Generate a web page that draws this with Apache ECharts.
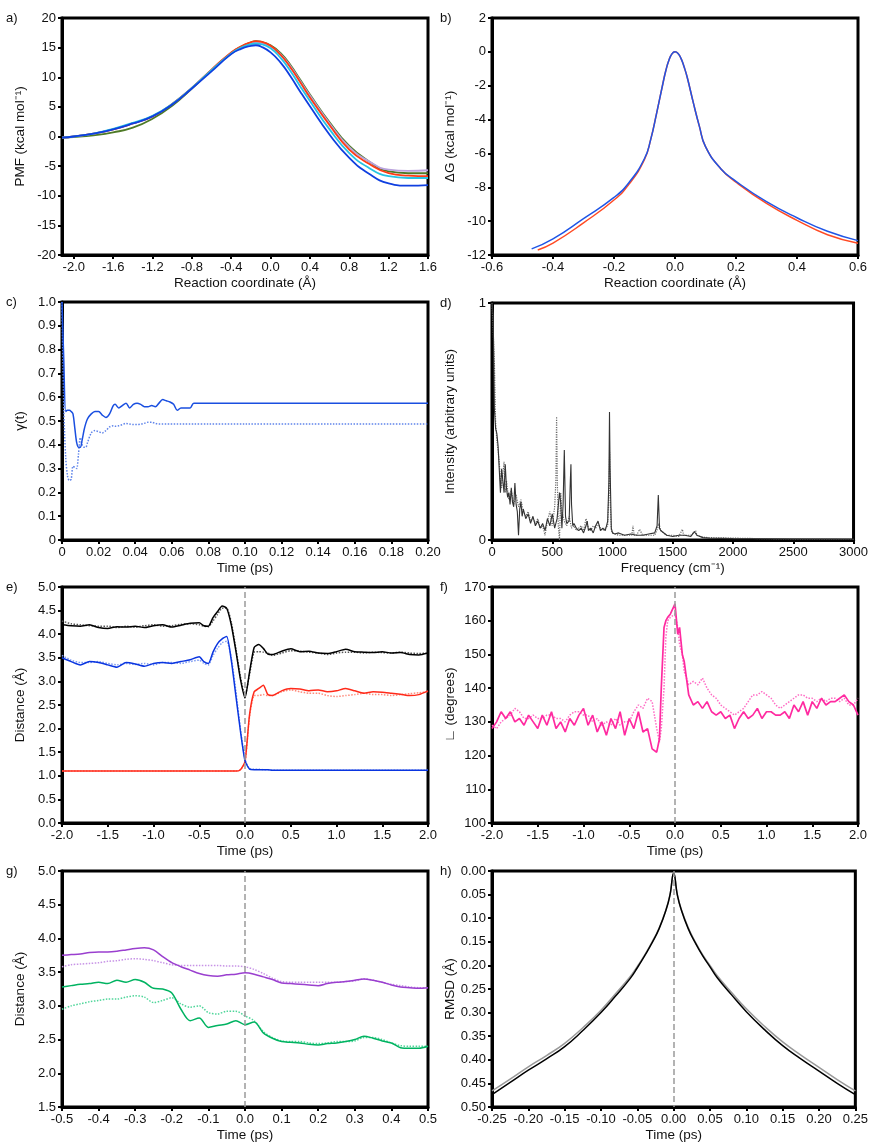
<!DOCTYPE html>
<html><head><meta charset="utf-8">
<script src="https://cdn.jsdelivr.net/npm/echarts@6/dist/echarts.min.js"></script>
<style>html,body{margin:0;padding:0;background:#fff}#c{width:871px;height:1144px}</style>
</head><body><div id="c"></div>
<script>
// ---- Panel a: PMF ----
const aX = [-2.12,-2.0,-1.8,-1.6,-1.4,-1.2,-1.0,-0.8,-0.6,-0.4,-0.3,-0.2,-0.15,-0.1,0.0,0.1,0.2,0.3,0.4,0.6,0.8,1.0,1.2,1.4,1.6];
const aGreen  = [-0.2,-0.1,0.2,0.7,1.5,3.0,5.2,8.1,11.2,14.1,15.2,15.9,16.1,16.0,15.4,14.1,12.1,9.6,7.1,2.4,-1.6,-4.2,-5.9,-6.2,-6.2];
const aPurple = [-0.2,0.0,0.5,1.2,2.2,3.4,5.5,8.2,11.2,14.1,15.1,15.7,15.9,15.8,15.2,13.9,11.9,9.4,6.9,2.2,-1.8,-4.2,-5.6,-5.8,-5.7];
const aRed    = [-0.2,0.0,0.5,1.2,2.2,3.4,5.5,8.2,11.3,14.2,15.2,15.9,16.1,16.0,15.3,13.8,11.7,9.2,6.6,1.9,-2.2,-4.6,-6.2,-6.6,-6.7];
const aCyan   = [-0.2,0.0,0.5,1.3,2.3,3.5,5.5,8.2,11.2,14.0,15.0,15.6,15.7,15.6,14.9,13.3,11.1,8.5,6.0,1.2,-2.8,-5.3,-6.7,-7.0,-7.0];
const aBlue   = [-0.2,0.0,0.5,1.2,2.2,3.4,5.4,8.1,11.0,13.9,14.8,15.3,15.4,15.2,14.2,12.5,10.2,7.6,5.1,0.3,-3.6,-6.3,-7.9,-8.3,-8.2];
const aTicks  = [-2.0,-1.6,-1.2,-0.8,-0.4,0.0,0.4,0.8,1.2,1.6];

// ---- Panel b: dG ----
const bXBlue = [-0.47,-0.4,-0.3,-0.2,-0.15,-0.1,-0.08,-0.06,-0.04,-0.03,-0.02,-0.01,0,0.01,0.02,0.03,0.04,0.06,0.08,0.1,0.15,0.2,0.3,0.4,0.5,0.6];
const bBlue  = [-11.64,-11.05,-9.85,-8.6,-7.7,-6.3,-5.2,-3.6,-1.9,-1.1,-0.5,-0.12,0.0,-0.1,-0.4,-0.9,-1.5,-3.0,-4.4,-5.6,-6.9,-7.65,-8.85,-9.8,-10.6,-11.15];
const bXRed  = [-0.45,-0.4,-0.3,-0.2,-0.15,-0.1,-0.08,-0.06,-0.04,-0.03,-0.02,-0.01,0,0.01,0.02,0.03,0.04,0.06,0.08,0.1,0.15,0.2,0.3,0.4,0.5,0.6];
const bRed   = [-11.7,-11.3,-10.1,-8.75,-7.8,-6.35,-5.2,-3.6,-1.9,-1.1,-0.5,-0.12,0.0,-0.1,-0.4,-0.9,-1.5,-3.0,-4.4,-5.6,-6.9,-7.7,-8.95,-9.95,-10.8,-11.3];

// ---- Panel c: gamma(t) ----
const cTime = [0,0.001,0.002,0.003,0.004,0.005,0.006,0.007,0.008,0.009,0.010,0.011,0.012,0.013,0.014,0.016,0.018,0.020,0.022,0.024,0.026,0.028,0.029,0.031,0.033,0.035,0.037,0.039,0.041,0.043,0.045,0.047,0.049,0.051,0.053,0.055,0.057,0.059,0.061,0.063,0.065,0.067,0.070,0.072,0.080,0.100,0.150,0.200];
const cSolid = [1.0,0.75,0.54,0.545,0.545,0.54,0.53,0.47,0.41,0.39,0.39,0.42,0.46,0.49,0.51,0.53,0.54,0.54,0.525,0.515,0.53,0.565,0.57,0.555,0.565,0.575,0.555,0.57,0.575,0.57,0.56,0.56,0.565,0.56,0.575,0.59,0.585,0.58,0.57,0.545,0.555,0.555,0.555,0.575,0.575,0.575,0.575,0.575];
const cDotted = [1.0,0.55,0.35,0.27,0.25,0.255,0.31,0.305,0.30,0.36,0.43,0.40,0.39,0.39,0.41,0.45,0.46,0.455,0.45,0.46,0.475,0.48,0.478,0.48,0.485,0.49,0.487,0.485,0.485,0.487,0.49,0.495,0.495,0.49,0.487,0.487,0.487,0.487,0.487,0.487,0.487,0.487,0.487,0.487,0.487,0.487,0.487,0.487];

// ---- Panel d: spectrum ----
const dFreqA = [0,10,20,30,40,50,60,70,80,90,100,110,120,130,140,150,160,170,180,190,200,210,220,230,240,250,260,280,300,320,340,360,380,400,420,440,460,480,500,520,540,560,570,580,590,600,610,620,640,650,655,660,670,680,700,720,740,760,780,790,800,820,840,860,880,900,920,940,960,970,975,980,990,1000,1020,1050,1100,1150,1200,1250,1300,1350,1370,1380,1390,1400,1450,1500,1550,1600,1650,1680,1700,1750,1800,2000,2200,2500,3000];
const dIntA  = [1.0,0.95,0.55,0.47,0.45,0.40,0.30,0.20,0.30,0.25,0.20,0.32,0.22,0.18,0.20,0.15,0.22,0.16,0.14,0.24,0.15,0.12,0.02,0.13,0.16,0.10,0.13,0.09,0.11,0.07,0.10,0.06,0.08,0.05,0.07,0.04,0.09,0.06,0.11,0.05,0.09,0.20,0.16,0.05,0.15,0.38,0.10,0.07,0.08,0.25,0.32,0.15,0.06,0.07,0.05,0.04,0.05,0.03,0.06,0.08,0.04,0.05,0.03,0.06,0.08,0.04,0.05,0.04,0.08,0.25,0.54,0.30,0.05,0.03,0.025,0.03,0.02,0.025,0.02,0.02,0.025,0.03,0.06,0.19,0.05,0.04,0.02,0.015,0.02,0.02,0.015,0.035,0.02,0.01,0.008,0.006,0.005,0.004,0.003];
const dFreqB = [0,10,20,30,40,50,60,70,80,90,100,110,120,140,160,180,200,220,240,260,280,300,320,340,360,380,400,420,440,460,480,500,520,530,536,542,550,560,570,580,600,620,640,660,680,700,720,740,760,780,800,820,840,860,880,900,920,940,960,970,976,982,990,1000,1050,1100,1160,1170,1180,1200,1215,1225,1250,1300,1350,1375,1385,1400,1450,1500,1550,1580,1590,1600,1650,1690,1700,1750,1800,2000,2200,2500,3000];
const dIntB  = [1.0,1.0,0.75,0.50,0.42,0.38,0.33,0.25,0.22,0.28,0.33,0.20,0.25,0.17,0.21,0.15,0.19,0.14,0.17,0.12,0.10,0.12,0.08,0.09,0.07,0.09,0.05,0.06,0.02,0.08,0.12,0.06,0.14,0.25,0.52,0.25,0.06,0.0,0.20,0.12,0.08,0.06,0.10,0.05,0.06,0.04,0.05,0.06,0.04,0.09,0.05,0.04,0.06,0.05,0.07,0.05,0.04,0.05,0.06,0.20,0.37,0.15,0.04,0.03,0.02,0.02,0.02,0.06,0.02,0.02,0.02,0.045,0.02,0.02,0.02,0.05,0.07,0.04,0.02,0.02,0.015,0.045,0.02,0.015,0.02,0.04,0.02,0.012,0.01,0.008,0.006,0.004,0.003];

// ---- Panel e: distances ----
const eTime = [-2.0,-1.9,-1.8,-1.7,-1.6,-1.5,-1.4,-1.3,-1.2,-1.1,-1.0,-0.9,-0.8,-0.7,-0.6,-0.5,-0.45,-0.4,-0.35,-0.3,-0.25,-0.2,-0.15,-0.1,-0.05,0.0,0.05,0.1,0.15,0.2,0.25,0.3,0.4,0.5,0.6,0.7,0.8,0.9,1.0,1.1,1.2,1.3,1.4,1.5,1.6,1.7,1.8,1.9,2.0];
const eBlackSolid  = [4.20,4.18,4.17,4.20,4.14,4.12,4.16,4.15,4.17,4.14,4.18,4.20,4.15,4.19,4.23,4.24,4.18,4.17,4.35,4.48,4.60,4.55,4.20,3.65,3.05,2.65,3.20,3.72,3.78,3.70,3.58,3.57,3.64,3.69,3.63,3.64,3.60,3.59,3.63,3.68,3.63,3.62,3.61,3.63,3.60,3.61,3.57,3.56,3.60];
const eBlackDotted = [4.28,4.22,4.20,4.18,4.17,4.17,4.14,4.17,4.15,4.18,4.20,4.17,4.18,4.21,4.22,4.20,4.17,4.16,4.28,4.42,4.55,4.55,4.25,3.70,3.10,2.70,3.15,3.62,3.63,3.62,3.60,3.55,3.60,3.65,3.64,3.62,3.60,3.57,3.60,3.62,3.62,3.60,3.62,3.61,3.60,3.62,3.60,3.59,3.60];
const eBlueSolid   = [3.50,3.42,3.35,3.42,3.40,3.35,3.30,3.40,3.37,3.32,3.38,3.40,3.38,3.42,3.46,3.52,3.42,3.38,3.62,3.80,3.90,3.95,3.45,2.70,1.95,1.32,1.14,1.13,1.13,1.13,1.13,1.12,1.12,1.12,1.12,1.12,1.12,1.12,1.12,1.12,1.12,1.12,1.12,1.12,1.12,1.12,1.12,1.12,1.12];
const eBlueDotted  = [3.55,3.45,3.40,3.40,3.42,3.38,3.35,3.38,3.36,3.38,3.35,3.40,3.40,3.38,3.42,3.45,3.38,3.35,3.55,3.70,3.82,3.85,3.50,2.80,2.00,1.35,1.15,1.14,1.14,1.13,1.13,1.12,1.12,1.12,1.12,1.12,1.12,1.12,1.12,1.12,1.12,1.12,1.12,1.12,1.12,1.12,1.12,1.12,1.12];
const eRedSolid    = [1.10,1.10,1.10,1.10,1.10,1.10,1.10,1.10,1.10,1.10,1.10,1.10,1.10,1.10,1.10,1.10,1.10,1.10,1.10,1.10,1.10,1.10,1.10,1.10,1.13,1.30,2.30,2.78,2.85,2.92,2.72,2.70,2.80,2.85,2.84,2.80,2.82,2.78,2.80,2.85,2.80,2.75,2.78,2.77,2.75,2.73,2.70,2.72,2.80];
const eRedDotted   = [1.10,1.10,1.10,1.10,1.10,1.10,1.10,1.10,1.10,1.10,1.10,1.10,1.10,1.10,1.10,1.10,1.10,1.10,1.10,1.10,1.10,1.10,1.10,1.10,1.13,1.28,2.25,2.70,2.70,2.72,2.70,2.70,2.78,2.82,2.78,2.75,2.75,2.70,2.68,2.70,2.72,2.75,2.72,2.72,2.70,2.72,2.74,2.76,2.78];

// ---- Panel f: angle ----
const fTime = [-2.0,-1.95,-1.9,-1.85,-1.8,-1.75,-1.7,-1.65,-1.6,-1.55,-1.5,-1.45,-1.4,-1.35,-1.3,-1.25,-1.2,-1.15,-1.1,-1.05,-1.0,-0.95,-0.9,-0.85,-0.8,-0.75,-0.7,-0.65,-0.6,-0.55,-0.5,-0.45,-0.4,-0.35,-0.3,-0.25,-0.2,-0.17,-0.15,-0.12,-0.1,-0.08,-0.05,0.0,0.03,0.05,0.08,0.1,0.15,0.2,0.25,0.3,0.35,0.4,0.45,0.5,0.55,0.6,0.65,0.7,0.75,0.8,0.85,0.9,0.95,1.0,1.05,1.1,1.15,1.2,1.25,1.3,1.35,1.4,1.45,1.5,1.55,1.6,1.65,1.7,1.75,1.8,1.85,1.9,1.95,2.0];
const fSolid  = [128,130,133,131,133,130,131,129,132,130,128,132,129,133,128,130,127,131,129,132,134,129,132,127,130,126,131,128,133,126,131,128,133,127,128,122,121,125,140,158,160,161,162,165,156,158,150,148,138,135,136,134,136,133,132,133,131,132,128,131,133,131,132,134,131,133,133,132,132,133,131,135,133,136,132,136,134,137,135,136,136,137,138,136,135,132];
const fDotted = [129,128,130,131,132,134,133,131,131,132,131,131,132,132,131,131,130,132,133,133,132,132,130,131,129,130,129,131,129,130,130,133,135,134,137,136,128,124,128,140,155,160,161,162,158,153,150,145,141,142,141,143,140,138,137,135,134,133,132,133,134,136,138,138,139,138,137,135,134,135,136,137,138,138,137,137,136,137,136,137,137,136,137,135,135,137];

// ---- Panel g: distances ----
const gTime = [-0.5,-0.475,-0.45,-0.425,-0.4,-0.375,-0.35,-0.325,-0.3,-0.275,-0.25,-0.225,-0.2,-0.175,-0.15,-0.125,-0.1,-0.075,-0.05,-0.025,0,0.025,0.05,0.075,0.1,0.125,0.15,0.175,0.2,0.225,0.25,0.275,0.3,0.325,0.35,0.375,0.4,0.425,0.45,0.475,0.5];
const gPurpleSolid  = [3.75,3.76,3.77,3.79,3.80,3.80,3.81,3.83,3.85,3.86,3.83,3.73,3.64,3.58,3.53,3.48,3.45,3.44,3.46,3.47,3.49,3.47,3.43,3.39,3.34,3.33,3.32,3.31,3.30,3.33,3.35,3.36,3.38,3.40,3.38,3.35,3.31,3.28,3.27,3.26,3.27];
const gPurpleDotted = [3.58,3.61,3.62,3.63,3.64,3.66,3.67,3.69,3.70,3.69,3.67,3.64,3.61,3.60,3.60,3.60,3.60,3.60,3.59,3.59,3.58,3.54,3.48,3.41,3.36,3.35,3.35,3.35,3.35,3.35,3.35,3.36,3.37,3.40,3.38,3.35,3.32,3.30,3.28,3.27,3.27];
const gGreenSolid   = [3.28,3.30,3.32,3.33,3.35,3.33,3.38,3.35,3.39,3.35,3.26,3.25,3.19,2.95,2.78,2.82,2.68,2.71,2.73,2.78,2.72,2.76,2.60,2.52,2.47,2.46,2.45,2.43,2.42,2.44,2.45,2.47,2.50,2.55,2.52,2.48,2.45,2.38,2.37,2.37,2.40];
const gGreenDotted  = [2.95,3.00,3.03,3.06,3.08,3.10,3.10,3.13,3.15,3.13,3.05,3.08,3.12,3.03,2.98,3.00,2.90,2.88,2.92,2.92,2.85,2.78,2.62,2.53,2.48,2.47,2.47,2.45,2.44,2.45,2.47,2.47,2.48,2.53,2.53,2.50,2.45,2.41,2.40,2.40,2.40];

// ---- Panel h: RMSD ----
const hTime  = [-0.25,-0.225,-0.2,-0.175,-0.15,-0.125,-0.1,-0.08,-0.06,-0.05,-0.04,-0.03,-0.02,-0.01,-0.005,0,0.005,0.01,0.02,0.03,0.04,0.05,0.06,0.08,0.1,0.125,0.15,0.175,0.2,0.225,0.25];
const hBlack = [0.474,0.448,0.422,0.398,0.372,0.338,0.300,0.265,0.228,0.205,0.180,0.153,0.122,0.080,0.050,0.005,0.050,0.080,0.122,0.153,0.180,0.203,0.226,0.263,0.298,0.336,0.370,0.398,0.424,0.450,0.474];
const hGrey  = [0.466,0.441,0.415,0.391,0.365,0.332,0.295,0.260,0.224,0.202,0.178,0.151,0.121,0.079,0.050,0.005,0.050,0.079,0.120,0.151,0.178,0.200,0.222,0.258,0.292,0.329,0.362,0.390,0.416,0.442,0.466];

// ---- labels ----
const panelLabels = ['a)','b)','c)','d)','e)','f)','g)','h)'];
const xNames = ['Reaction coordinate (Å)','Reaction coordinate (Å)','Time (ps)','Frequency (cm⁻¹)','Time (ps)','Time (ps)','Time (ps)','Time (ps)'];
const yNames = ['PMF (kcal mol⁻¹)','ΔG (kcal mol⁻¹)','γ(t)','Intensity (arbitrary units)','Distance (Å)','∟ (degrees)','Distance (Å)','RMSD (Å)'];

const FONT = '"Liberation Sans", Arial, Helvetica, sans-serif';
const FS = 13;
const FT = 13.5;
const zip = (xs, ys) => xs.map((x, i) => [x, ys[i]]);
const fx = d => v => (Math.abs(v) < 1e-9 ? 0 : v).toFixed(d);

const grids = [
  {left:62, top:18, width:366, height:237},
  {left:492, top:18, width:366, height:237},
  {left:62, top:302, width:366, height:238},
  {left:492, top:303, width:366, height:237},
  {left:62, top:587, width:366, height:236},
  {left:492, top:587, width:366, height:236},
  {left:62, top:871, width:366, height:236},
  {left:492, top:871, width:366, height:236}
].map(g => Object.assign({show:true, borderColor:'#000', borderWidth:3, backgroundColor:'#fff', containLabel:false}, g));

function axisBase(i, name, isX) {
  return {
    type:'value', gridIndex:i, name:name, nameLocation:'middle',
    nameGap: isX ? 21 : 35,
    nameTextStyle:{fontSize:FT, color:'#111', fontFamily:FONT},
    axisLine:{show:true, onZero:false, lineStyle:{color:'#000', width:3}},
    axisTick:{show:true, inside:false, length:4, lineStyle:{color:'#000', width:2}},
    axisLabel:{fontSize:FS, color:'#111', fontFamily:FONT, margin:6},
    splitLine:{show:false}
  };
}
const xSpec = [
  {min:-2.12, max:1.6, fmt:fx(1), custom:aTicks},
  {min:-0.6, max:0.6, interval:0.2, fmt:fx(1)},
  {min:0, max:0.2, interval:0.02, fmt:v => Math.abs(v)<1e-9 ? '0' : v.toFixed(2)},
  {min:0, max:3000, interval:500, fmt:fx(0)},
  {min:-2, max:2, interval:0.5, fmt:fx(1)},
  {min:-2, max:2, interval:0.5, fmt:fx(1)},
  {min:-0.5, max:0.5, interval:0.1, fmt:fx(1)},
  {min:-0.25, max:0.25, interval:0.05, fmt:fx(2)}
];
const ySpec = [
  {min:-20, max:20, interval:5, fmt:fx(0)},
  {min:-12, max:2, interval:2, fmt:fx(0)},
  {min:0, max:1, interval:0.1, fmt:v => Math.abs(v)<1e-9 ? '0' : v.toFixed(1)},
  {min:0, max:1, interval:1, fmt:fx(0)},
  {min:0, max:5, interval:0.5, fmt:fx(1)},
  {min:100, max:170, interval:10, fmt:fx(0)},
  {min:1.5, max:5, interval:0.5, fmt:fx(1)},
  {min:0, max:0.5, interval:0.05, fmt:fx(2), inverse:true}
];
const xAxes = xSpec.map((s, i) => {
  const a = axisBase(i, xNames[i], true);
  a.min = s.min; a.max = s.max;
  if (s.interval) a.interval = s.interval;
  a.axisLabel.formatter = s.fmt;
  if (s.custom) { a.axisLabel.customValues = s.custom; a.axisTick.customValues = s.custom; }
  return a;
});
const yAxes = ySpec.map((s, i) => {
  const a = axisBase(i, yNames[i], false);
  a.min = s.min; a.max = s.max; a.interval = s.interval;
  a.axisLabel.formatter = s.fmt;
  if (s.inverse) a.inverse = true;
  return a;
});

function line(i, xs, ys, color, o) {
  o = o || {};
  return {
    type:'line', xAxisIndex:i, yAxisIndex:i, data:zip(xs, ys),
    showSymbol:false, symbol:'none', animation:false, clip:true,
    smooth:o.smooth || false, z:o.z || 2,
    lineStyle:{color:color, width:o.w || 1.5, type:o.type || 'solid'}
  };
}
const zeroLine = {silent:true, symbol:['none','none'], label:{show:false}, animation:false,
  lineStyle:{type:'dashed', color:'#9a9a9a', width:1.5}, data:[{xAxis:0}]};
function withZero(s) { s.markLine = zeroLine; return s; }

const series = [
  // a
  line(0, aX, aGreen, '#4e7a26', {smooth:0.5, w:1.8}),
  line(0, aX, aPurple, '#b9a2dc', {smooth:0.5, w:1.8}),
  line(0, aX, aRed, '#ff3a14', {smooth:0.5, w:1.8}),
  line(0, aX, aCyan, '#27c3e2', {smooth:0.5, w:1.8}),
  line(0, aX, aBlue, '#0f3fe0', {smooth:0.5, w:1.8}),
  // b
  line(1, bXRed, bRed, '#ff4a24', {smooth:0.5}),
  line(1, bXBlue, bBlue, '#1f55e6', {smooth:0.5}),
  // c
  line(2, cTime, cDotted, '#5f84ea', {type:'dotted', smooth:0.3}),
  line(2, cTime, cSolid, '#1a4fe0', {smooth:0.3}),
  // d
  line(3, dFreqB, dIntB, '#6a6a6a', {type:'dotted', w:1.2}),
  line(3, dFreqA, dIntA, '#333333', {w:1.1}),
  // e
  withZero(line(4, eTime, eRedDotted, '#ff8a7a', {type:'dotted', smooth:0.2})),
  line(4, eTime, eRedSolid, '#ff2a1a', {smooth:0.2}),
  line(4, eTime, eBlueDotted, '#7f9cf2', {type:'dotted', smooth:0.2}),
  line(4, eTime, eBlueSolid, '#0a35e0', {smooth:0.2}),
  line(4, eTime, eBlackDotted, '#555555', {type:'dotted', smooth:0.2}),
  line(4, eTime, eBlackSolid, '#000000', {smooth:0.2}),
  // f
  withZero(line(5, fTime, fDotted, '#ff6cc4', {type:'dotted'})),
  line(5, fTime, fSolid, '#ff2aa0', {w:1.7}),
  // g
  withZero(line(6, gTime, gPurpleDotted, '#c793e6', {type:'dotted', smooth:0.3})),
  line(6, gTime, gPurpleSolid, '#9a3fcf', {smooth:0.3}),
  line(6, gTime, gGreenDotted, '#4fd69a', {type:'dotted', smooth:0.3}),
  line(6, gTime, gGreenSolid, '#00b361', {smooth:0.3}),
  // h
  withZero(line(7, hTime, hGrey, '#9a9a9a', {smooth:0.5})),
  line(7, hTime, hBlack, '#000000', {smooth:0.5})
];

const labelPos = [[6,18],[440,18],[6,302],[440,303],[6,587],[440,587],[6,871],[440,871]];
const graphic = panelLabels.map((t, i) => ({
  type:'text', x:labelPos[i][0], y:labelPos[i][1], z:100,
  style:{text:t, fontSize:FS, fontFamily:FONT, fill:'#111', verticalAlign:'middle', align:'left'}
}));

const chart = echarts.init(document.getElementById('c'), null, {renderer:'canvas'});
chart.setOption({
  animation:false, backgroundColor:'#fff',
  grid:grids, xAxis:xAxes, yAxis:yAxes, series:series, graphic:graphic
});
</script></body></html>
